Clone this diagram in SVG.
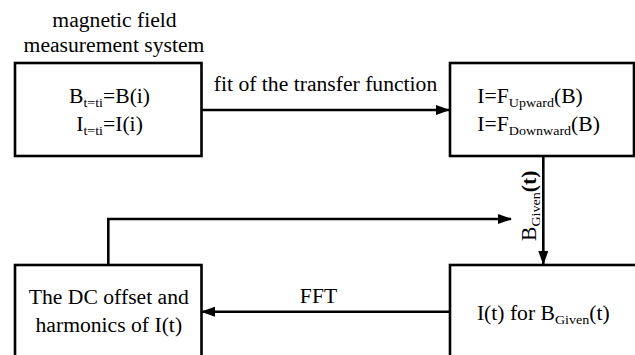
<svg xmlns="http://www.w3.org/2000/svg" width="635" height="355" viewBox="0 0 635 355">
<style>
.box{fill:#fff;stroke:#000;stroke-width:2.6}
.ln{fill:none;stroke:#000;stroke-width:2.6}
.t{font-family:'Liberation Serif','Times New Roman',Times,serif;font-size:20.8px;fill:#000}
.sub{font-size:13.5px}
</style>
<defs>
<marker id="ah" markerWidth="14" markerHeight="10" refX="13" refY="5" orient="auto" markerUnits="userSpaceOnUse">
<path d="M0,0 L14,5 L0,10 Z" fill="#000"/>
</marker>
</defs>
<rect width="635" height="355" fill="#fff"/>
<g id="title" class="t">
<text transform="translate(114.5,26.7) scale(1.04,1)" text-anchor="middle">magnetic field</text>
<text transform="translate(114,51.7) scale(1.04,1)" text-anchor="middle">measurement system</text>
</g>
<g id="connectors" class="t">
<line class="ln" x1="201" y1="110" x2="449" y2="110" marker-end="url(#ah)"/>
<line class="ln" x1="543.3" y1="156" x2="543.3" y2="264" marker-end="url(#ah)"/>
<polyline class="ln" points="108.3,265 108.3,219 511,219" marker-end="url(#ah)"/>
<line class="ln" x1="450" y1="311.7" x2="202" y2="311.7" marker-end="url(#ah)"/>
<text transform="translate(325.5,90.5) scale(1.04,1)" text-anchor="middle">fit of the transfer function</text>
<text transform="translate(318.5,303.3) scale(1.04,1)" text-anchor="middle">FFT</text>
<text transform="translate(536,241) rotate(-90) scale(1.04,1)">B<tspan class="sub" dy="4">Given</tspan><tspan dy="-4" font-weight="bold">(t)</tspan></text>
</g>
<g id="node-measure" class="t">
<rect class="box" x="15" y="63" width="186.5" height="93"/>
<text transform="translate(109.5,103) scale(1.04,1)" text-anchor="middle">B<tspan class="sub" dy="4">t=ti</tspan><tspan dy="-4">=B(i)</tspan></text>
<text transform="translate(109.5,131) scale(1.04,1)" text-anchor="middle">I<tspan class="sub" dy="4">t=ti</tspan><tspan dy="-4">=I(i)</tspan></text>
</g>
<g id="node-transfer" class="t">
<rect class="box" x="450" y="63" width="184" height="93"/>
<text transform="translate(477.3,103.3) scale(1.04,1)">I=F<tspan class="sub" dy="4">Upward</tspan><tspan dy="-4">(B)</tspan></text>
<text transform="translate(477.3,130.5) scale(1.04,1)">I=F<tspan class="sub" dy="4">Downward</tspan><tspan dy="-4">(B)</tspan></text>
</g>
<g id="node-harmonics" class="t">
<rect class="box" x="15" y="265" width="186.5" height="100"/>
<text transform="translate(108.8,304.3) scale(1.04,1)" text-anchor="middle">The DC offset and</text>
<text transform="translate(108.8,332.3) scale(1.04,1)" text-anchor="middle">harmonics of I(t)</text>
</g>
<g id="node-current" class="t">
<rect class="box" x="450" y="265" width="200" height="100"/>
<text transform="translate(543.3,320) scale(1.04,1)" text-anchor="middle">I(t) for B<tspan class="sub" dy="4">Given</tspan><tspan dy="-4">(t)</tspan></text>
</g>
</svg>
